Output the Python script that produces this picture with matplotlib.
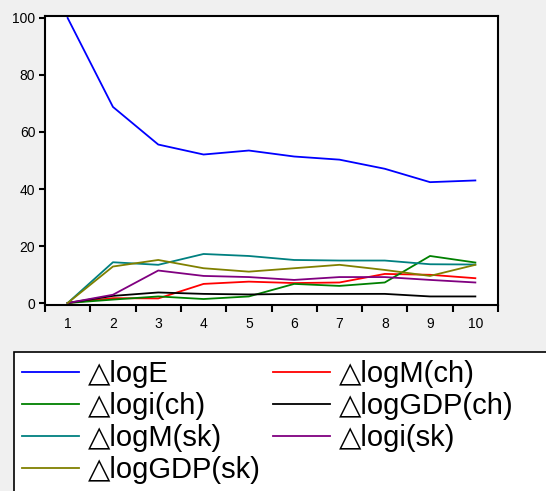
import matplotlib
matplotlib.use("Agg")
import matplotlib.pyplot as plt
from matplotlib.patches import Rectangle
import numpy as np

periods = [1, 2, 3, 4, 5, 6, 7, 8, 9, 10]
logE      = [100, 68.8, 55.6, 52.1, 53.5, 51.4, 50.3, 47.1, 42.4, 43.0]
logM_ch   = [0, 1.7, 1.6, 6.7, 7.5, 7.0, 7.2, 10.2, 9.9, 8.7]
logi_ch   = [0, 1.2, 2.3, 1.4, 2.3, 6.7, 6.0, 7.2, 16.5, 14.2]
logGDP_ch = [0, 2.5, 3.7, 3.2, 3.0, 3.2, 3.2, 3.2, 2.3, 2.3]
logM_sk   = [0, 14.3, 13.4, 17.2, 16.5, 15.1, 14.9, 14.9, 13.6, 13.5]
logi_sk   = [0, 2.9, 11.4, 9.5, 9.1, 8.1, 9.1, 9.1, 8.1, 7.2]
logGDP_sk = [0, 12.8, 15.1, 12.2, 11.0, 12.2, 13.4, 11.6, 9.5, 13.4]

labels = ["△logE", "△logM(ch)", "△logi(ch)", "△logGDP(ch)",
          "△logM(sk)", "△logi(sk)", "△logGDP(sk)"]
series = [logE, logM_ch, logi_ch, logGDP_ch, logM_sk, logi_sk, logGDP_sk]
colors = ["#0000ff", "#ff0000", "#008000", "#000000", "#008080", "#800080", "#808000"]

plt.rcParams['font.family'] = ['Liberation Sans', 'DejaVu Sans']

W, H = 546, 491
fig = plt.figure(figsize=(W/100, H/100), dpi=100, facecolor="#f0f0f0")
ax = fig.add_axes([45/W, 1-305/H, (498-45)/W, (305-16)/H])
ax.set_facecolor("white")

handles = []
for s, c, lab in zip(series, colors, labels):
    h, = ax.plot(periods, s, color=c, lw=1.3, label=lab)
    handles.append(h)

ax.set_xlim(0.5, 10.5)
ax.set_ylim(-0.7, 100.7)
ax.set_yticks([0, 20, 40, 60, 80, 100])
ax.set_xticks(periods)
ax.set_xticks(np.arange(0.5, 11, 1.0), minor=True)
ax.tick_params(axis='x', which='major', length=0, pad=9, labelsize=10)
ax.tick_params(axis='x', which='minor', length=5, width=1.5, direction='out')
ax.tick_params(axis='y', which='major', length=4, width=1.5, direction='out', pad=3, labelsize=10)
ax.tick_params(top=False, right=False)
for sp in ax.spines.values():
    sp.set_linewidth(1.5)

# legend frame
fig.patches.append(Rectangle((14/W, 1-500/H), (600-14)/W, (500-352)/H,
                             transform=fig.transFigure, facecolor="white",
                             edgecolor="black", lw=1.2, zorder=0))
# row-wise ordering for two columns
order = [0, 2, 4, 6, 1, 3, 5]
leg = fig.legend(handles=[handles[i] for i in order], loc='upper left',
                 bbox_to_anchor=(16/W, 1-354/H),
                 ncol=2, frameon=False, fontsize=21, handlelength=1.95,
                 handletextpad=0.3, columnspacing=0.45, labelspacing=0.14,
                 borderpad=0.2, borderaxespad=0)

fig.savefig("out.png", dpi=100, facecolor=fig.get_facecolor())
